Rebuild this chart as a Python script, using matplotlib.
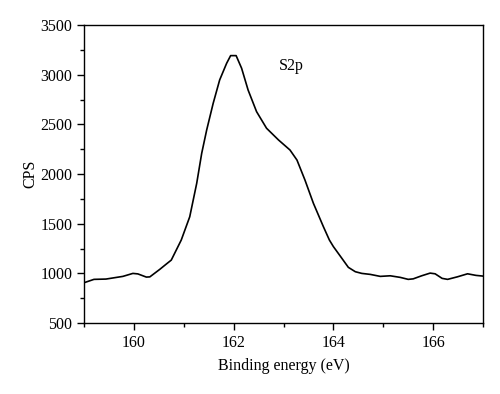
'''XPS S2p spectrum'''

import matplotlib
matplotlib.use('Agg')
import matplotlib.pyplot as plt
from matplotlib.ticker import MultipleLocator

energy = [159.0, 159.2, 159.44, 159.78, 159.98, 160.08, 160.25, 160.32, 160.52,
          160.65, 160.75, 160.95, 161.12, 161.26, 161.36, 161.46, 161.59, 161.72,
          161.86, 161.94, 162.05, 162.16, 162.29, 162.46, 162.66, 162.9, 163.13,
          163.27, 163.43, 163.6, 163.8, 163.92, 164.0, 164.17, 164.3, 164.44,
          164.57, 164.74, 164.94, 165.14, 165.34, 165.5, 165.6, 165.77, 165.94,
          166.04, 166.18, 166.29, 166.49, 166.69, 166.86, 167.0]
cps = [906, 940, 943, 970, 1000, 995, 963, 965, 1041,
       1094, 1134, 1336, 1570, 1907, 2209, 2444, 2712, 2947,
       3115, 3192, 3192, 3065, 2846, 2628, 2461, 2343, 2242,
       2141, 1940, 1705, 1470, 1336, 1270, 1152, 1061, 1017,
       1000, 990, 970, 976, 960, 940, 945, 976, 1003,
       996, 950, 940, 966, 996, 980, 973]

plt.rcParams['font.family'] = ['Liberation Serif', 'DejaVu Serif']
plt.rcParams['font.size'] = 11.5

fig = plt.figure(figsize=(5, 3.94), dpi=100)
ax = fig.add_axes([0.168, 0.180, 0.798, 0.7565])
ax.plot(energy, cps, color='black', linewidth=1.2)
ax.text(162.9, 3090, 'S2p', va='center', ha='left')

ax.set_xlim(159, 167)
ax.set_ylim(500, 3500)
ax.xaxis.set_major_locator(MultipleLocator(2))
ax.xaxis.set_minor_locator(MultipleLocator(1))
ax.yaxis.set_major_locator(MultipleLocator(500))
ax.yaxis.set_minor_locator(MultipleLocator(250))
ax.tick_params(which='both', direction='out', top=False, right=False)
ax.tick_params(which='major', length=5, width=1)
ax.tick_params(which='minor', length=3, width=1)
ax.set_xlabel('Binding energy (eV)', labelpad=5)
ax.set_ylabel('CPS', labelpad=1)
for s in ax.spines.values():
    s.set_linewidth(1)

fig.savefig('out.png', dpi=100)
